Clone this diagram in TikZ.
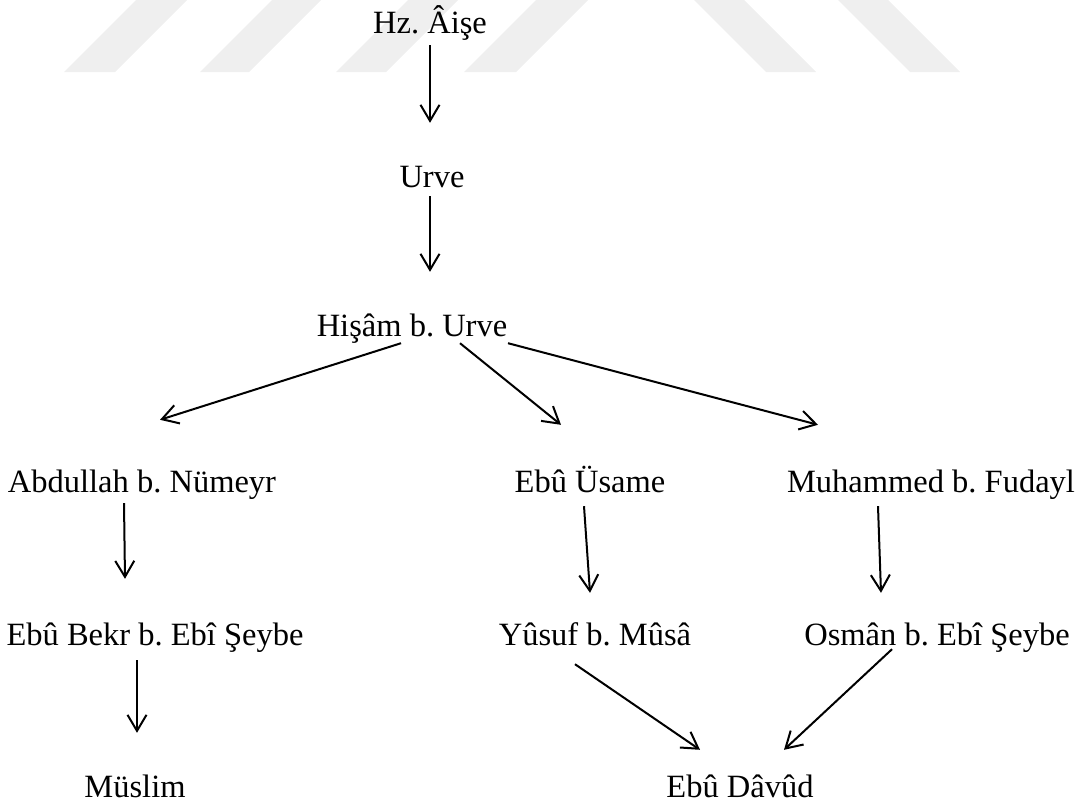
\documentclass[tikz,border=0pt]{standalone}
\usepackage{fontspec}
\setmainfont{Liberation Serif}
\usetikzlibrary{arrows.meta,calc}
\definecolor{wmgray}{RGB}{239,239,239}
\tikzset{
  isnad/.style={font=\fontsize{32.5}{39}\selectfont, inner sep=1pt, text height=23pt, text depth=7pt, anchor=base},
  link/.style={line width=2pt, -{Straight Barb[length=16pt,width=19pt,line width=2pt]}},
  stripe/.style={fill=wmgray, draw=none}
}
\frenchspacing
\begin{document}
\begin{tikzpicture}[x=1pt,y=1pt,yscale=-1,xscale=1]
\useasboundingbox (0,0) rectangle (1081,806);

%Shape: watermark stripes
\path [stripe] (64,72) -- (115,72) -- (187,0) -- (136,0) -- cycle ;
\path [stripe] (200,72) -- (249,72) -- (321,0) -- (272,0) -- cycle ;
\path [stripe] (336,72) -- (386,72) -- (458,0) -- (408,0) -- cycle ;
\path [stripe] (464,72) -- (516,72) -- (588,0) -- (536,0) -- cycle ;
\path [stripe] (694,0) -- (744,0) -- (816,72) -- (766,72) -- cycle ;
\path [stripe] (838,0) -- (888,0) -- (960,72) -- (910,72) -- cycle ;

% Text Node
\node [isnad] (aise) at (430,33) {Hz. Âişe};
% Text Node
\node [isnad] (urve) at (432,187) {Urve};
% Text Node
\node [isnad] (hisam) at (412,336) {Hişâm b. Urve};
% Text Node
\node [isnad] (numeyr) at (142,492) {Abdullah b. Nümeyr};
% Text Node
\node [isnad] (usame) at (590,492) {Ebû Üsame};
% Text Node
\node [isnad] (fudayl) at (931,492) {Muhammed b. Fudayl};
% Text Node
\node [isnad] (ebubekr) at (155,645) {Ebû Bekr b. Ebî Şeybe};
% Text Node
\node [isnad] (yusuf) at (595,645) {Yûsuf b. Mûsâ};
% Text Node
\node [isnad] (osman) at (937,645) {Osmân b. Ebî Şeybe};
% Text Node
\node [isnad] (muslim) at (135,797) {Müslim};
% Text Node
\node [isnad] (davud) at (740,797) {Ebû Dâvûd};

%Straight Lines
\draw [link] ($(aise.south)+(0,4)$) -- ($(urve.north)+(-2,-40)$) ;
\draw [link] ($(urve.south)+(-2,1)$) -- ($(hisam.north)+(18,-40)$) ;
\draw [link] ($(hisam.south)+(-11,-1)$) -- ($(numeyr.north)+(18,-48)$) ;
\draw [link] ($(hisam.south)+(48,-1)$) -- ($(usame.north)+(-29,-43)$) ;
\draw [link] ($(hisam.south)+(96,-1)$) -- ($(fudayl.north)+(-113,-43)$) ;
\draw [link] ($(numeyr.south)+(-18,3)$) -- ($(ebubekr.north)+(-30,-42)$) ;
\draw [link] ($(usame.south)+(-6,6)$) -- ($(yusuf.north)+(-5,-28)$) ;
\draw [link] ($(fudayl.south)+(-53,6)$) -- ($(osman.north)+(-56,-28)$) ;
\draw [link] ($(ebubekr.south)+(-18,7)$) -- ($(muslim.north)+(2,-40)$) ;
\draw [link] ($(yusuf.south)+(-20,11)$) -- ($(davud.north)+(-40,-23)$) ;
\draw [link] ($(osman.south)+(-45,-4)$) -- ($(davud.north)+(44,-23)$) ;

\end{tikzpicture}
\end{document}
